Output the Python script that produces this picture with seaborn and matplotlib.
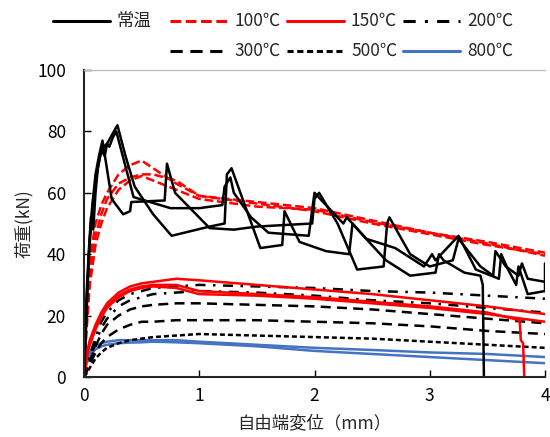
import matplotlib
matplotlib.use("Agg")
import matplotlib.pyplot as plt
from matplotlib.lines import Line2D
import pandas as pd
import seaborn as sns

# common displacement grid (mm) for the smooth curves
x_grid = [0, 0.02, 0.05, 0.1, 0.15, 0.2, 0.3, 0.4, 0.5, 0.6, 0.8, 1.0, 1.5, 2.0, 2.5, 3.0, 3.5, 4.0]

# 常温 specimens (sawtooth)
rt_a_x = [0, 0.01, 0.03, 0.05, 0.08, 0.11, 0.14, 0.17, 0.2, 0.23, 0.26, 0.29, 0.36, 0.44, 0.6, 0.76, 1.09, 1.22,
          1.24, 1.28, 1.53, 1.72, 1.74, 1.87, 2.1, 2.3, 2.33, 2.4, 2.62, 2.83, 3.05, 3.08, 3.12, 3.3, 3.44, 3.46, 3.47]
rt_a_y = [0, 12, 30, 45, 58, 66, 72, 75, 76, 78, 80, 82, 72, 62, 53, 46, 49, 50,
          66, 68, 42, 43, 54, 44, 41, 40, 50, 47, 38, 33, 34, 40, 38, 34, 33, 30, 0]
rt_b_x = [0, 0.02, 0.04, 0.07, 0.1, 0.13, 0.16, 0.19, 0.24, 0.34, 0.4, 0.41, 0.7, 0.72, 0.79, 1.09, 1.3, 1.5, 1.98,
          2.0, 2.04, 2.2, 2.37, 2.6, 2.63, 2.65, 2.83, 3.0, 3.2, 3.25, 3.44, 3.55, 3.57, 3.66, 3.77, 3.8, 3.85, 4.0]
rt_b_y = [0, 18, 38, 55, 66, 72, 77, 70, 58, 53, 54, 57, 57.5, 69.5, 60, 48.5, 48, 49, 50,
          58, 60, 50, 35, 36, 50, 52, 40, 36, 38, 45, 36, 33, 41, 36, 33, 37, 32, 31]
rt_c_x = [0, 0.02, 0.04, 0.06, 0.08, 0.1, 0.12, 0.15, 0.18, 0.2, 0.22, 0.25, 0.28, 0.35, 0.43, 0.75, 1.0, 1.2, 1.22,
          1.27, 1.3, 1.45, 1.6, 1.95, 2.0, 2.25, 2.28, 2.45, 2.7, 2.95, 3.02, 3.05, 3.2, 3.25, 3.4, 3.6, 3.62, 3.68,
          3.75, 3.77, 3.85, 4.0, 4.0]
rt_c_y = [0, 25, 40, 52, 48, 60, 68, 74, 72, 76, 75, 78, 80, 70, 58.6, 55, 55, 56, 62,
          65, 60, 52, 47, 46, 60, 50, 52, 45, 42, 36, 40, 38, 44, 46, 35, 32, 40, 35,
          30, 36, 27, 28, 37]

# 100℃
t100_a = [0, 20, 38, 50, 56, 60, 66, 69, 70.5, 68, 63, 59, 57, 55, 51, 47, 43.5, 39.5]
t100_b = [0, 16, 33, 46, 53, 58, 63, 65, 66, 66, 64, 59, 56.5, 54, 50, 46.5, 43, 40]
t100_c = [0, 14, 30, 43, 50, 55, 61, 64, 65.5, 64, 61, 58, 55.5, 54.5, 50.5, 47, 44, 40.5]
# 150℃ (specimen b fails near 3.8 mm)
t150_a = [0, 7, 12, 17, 21, 24, 27.5, 29.5, 30.5, 31, 32, 31.5, 30, 28.5, 27, 25, 23, 20.5]
t150_b_x = x_grid[:-1] + [3.78, 3.79, 3.81, 3.82]
t150_b = [0, 6, 11, 16, 20, 23, 26.5, 28.5, 29.5, 30, 30, 28, 27, 26, 24.5, 23, 21, 18.5, 12, 11, 0]
t150_c = [0, 6, 10.5, 15.5, 19.5, 22.5, 26, 28, 29, 29.5, 29, 27, 26.5, 25.5, 24, 22.5, 20.5, 18]
# 200℃
t200_a = [0, 3, 7, 13, 18, 21, 25, 27, 28, 29, 29.5, 30, 29.5, 29, 28, 27.5, 26.5, 25.5]
t200_b = [0, 2, 6, 11, 16, 19, 23, 25, 26, 27, 27.5, 28, 27.5, 26.5, 25, 24, 22.5, 21]
# 300℃
t300_a = [0, 2, 5, 10, 14, 17, 20, 22, 23, 23.5, 24, 24, 23.5, 23, 22, 20.5, 19, 17.5]
t300_b = [0, 1.5, 4, 8, 11, 13, 15.5, 17, 18, 18, 18.5, 18.5, 18.5, 18, 17.5, 16.5, 15, 14]
# 500℃
t500_a = [0, 1, 3, 6, 8, 9.5, 11, 12, 12.5, 13, 13.5, 14, 13.5, 13, 12.5, 11.5, 10.5, 9.5]
# 800℃
t800_a = [0, 5, 8, 10, 11, 11.5, 12, 12, 12, 12, 12, 11.5, 10.5, 9.5, 8.8, 8, 7.5, 6.5]
t800_b = [0, 4, 7, 9, 10, 10.5, 11, 11.2, 11.3, 11.5, 11.3, 11, 10, 8.5, 7.5, 6.5, 5.5, 4.5]

labels = ["常温", "100℃", "150℃", "200℃", "300℃", "500℃", "800℃"]

series = {
    "常温": [(rt_a_x, rt_a_y), (rt_b_x, rt_b_y), (rt_c_x, rt_c_y)],
    "100℃": [(x_grid, t100_a), (x_grid, t100_b), (x_grid, t100_c)],
    "150℃": [(x_grid, t150_a), (t150_b_x, t150_b), (x_grid, t150_c)],
    "200℃": [(x_grid, t200_a), (x_grid, t200_b)],
    "300℃": [(x_grid, t300_a), (x_grid, t300_b)],
    "500℃": [(x_grid, t500_a)],
    "800℃": [(x_grid, t800_a), (x_grid, t800_b)],
}

styles = {
    "常温": dict(color="black", dashes=None),
    "100℃": dict(color="#FF0000", dashes=(3.5, 1.5)),
    "150℃": dict(color="#FF0000", dashes=None),
    "200℃": dict(color="black", dashes=(4, 3, 1, 3)),
    "300℃": dict(color="black", dashes=(4, 2.5)),
    "500℃": dict(color="black", dashes=(2, 1.2)),
    "800℃": dict(color="#4472C4", dashes=None),
}

rows = []
for lab in labels:
    for k, (xs, ys) in enumerate(series[lab]):
        for i, (xv, yv) in enumerate(zip(xs, ys)):
            rows.append({"temp": lab, "spec": k, "order": i, "x": xv, "y": yv})
df = pd.DataFrame(rows)

sns.set_style("ticks")
plt.rcParams["font.family"] = ["Noto Sans CJK JP", "DejaVu Sans"]
plt.rcParams["xtick.direction"] = "in"
plt.rcParams["ytick.direction"] = "in"

fig = plt.figure(figsize=(5.5, 4.37), dpi=100)
ax = fig.add_axes([84 / 550, 1 - 377 / 437, 461 / 550, 307 / 437])

lw = 1.8
draw_order = ["800℃", "500℃", "300℃", "200℃", "150℃", "100℃", "常温"]
for lab in draw_order:
    st = styles[lab]
    sub = df[df.temp == lab]
    for k, g in sub.groupby("spec"):
        sns.lineplot(data=g, x="x", y="y", sort=False, estimator=None,
                     color=st["color"], lw=lw, ax=ax)
        if st["dashes"] is not None:
            ax.lines[-1].set_dashes(st["dashes"])

ax.set_xlim(0, 4)
ax.set_ylim(0, 100)
ax.set_xticks([0, 1, 2, 3, 4])
ax.set_yticks([0, 20, 40, 60, 80, 100])
ax.tick_params(labelsize=12.5, length=5, width=1, colors="black")
ax.tick_params(axis="y", pad=13)
ax.tick_params(axis="x", pad=7)
ax.set_xlabel("自由端変位（mm）", fontsize=12.5, labelpad=7)
ax.set_ylabel("荷重(kN)", fontsize=12.5, labelpad=3)
ax.spines["right"].set_visible(False)
ax.spines["top"].set_color("#BFBFBF")
ax.spines["top"].set_linewidth(1)
ax.spines["left"].set_linewidth(1.5)
ax.spines["bottom"].set_linewidth(1.5)

# legend laid out as in the source: 4 columns, first slot of row 2 empty
W, H = 550, 437
col_px = [53, 170, 287, 403]
row_px = [21, 51]
slots = [("常温", 0, 0), ("100℃", 0, 1), ("150℃", 0, 2), ("200℃", 0, 3),
         ("300℃", 1, 1), ("500℃", 1, 2), ("800℃", 1, 3)]
for lab, r, c in slots:
    st = styles[lab]
    yf = 1 - row_px[r] / H
    x0 = col_px[c] / W
    x1 = (col_px[c] + 57) / W
    h = Line2D([x0, x1], [yf, yf], color=st["color"], lw=2.2, transform=fig.transFigure)
    if st["dashes"] is not None:
        h.set_dashes(st["dashes"])
    fig.add_artist(h)
    fig.text((col_px[c] + 64) / W, yf, lab, fontsize=12.5, va="center", ha="left")

fig.savefig("out.png", dpi=100)
